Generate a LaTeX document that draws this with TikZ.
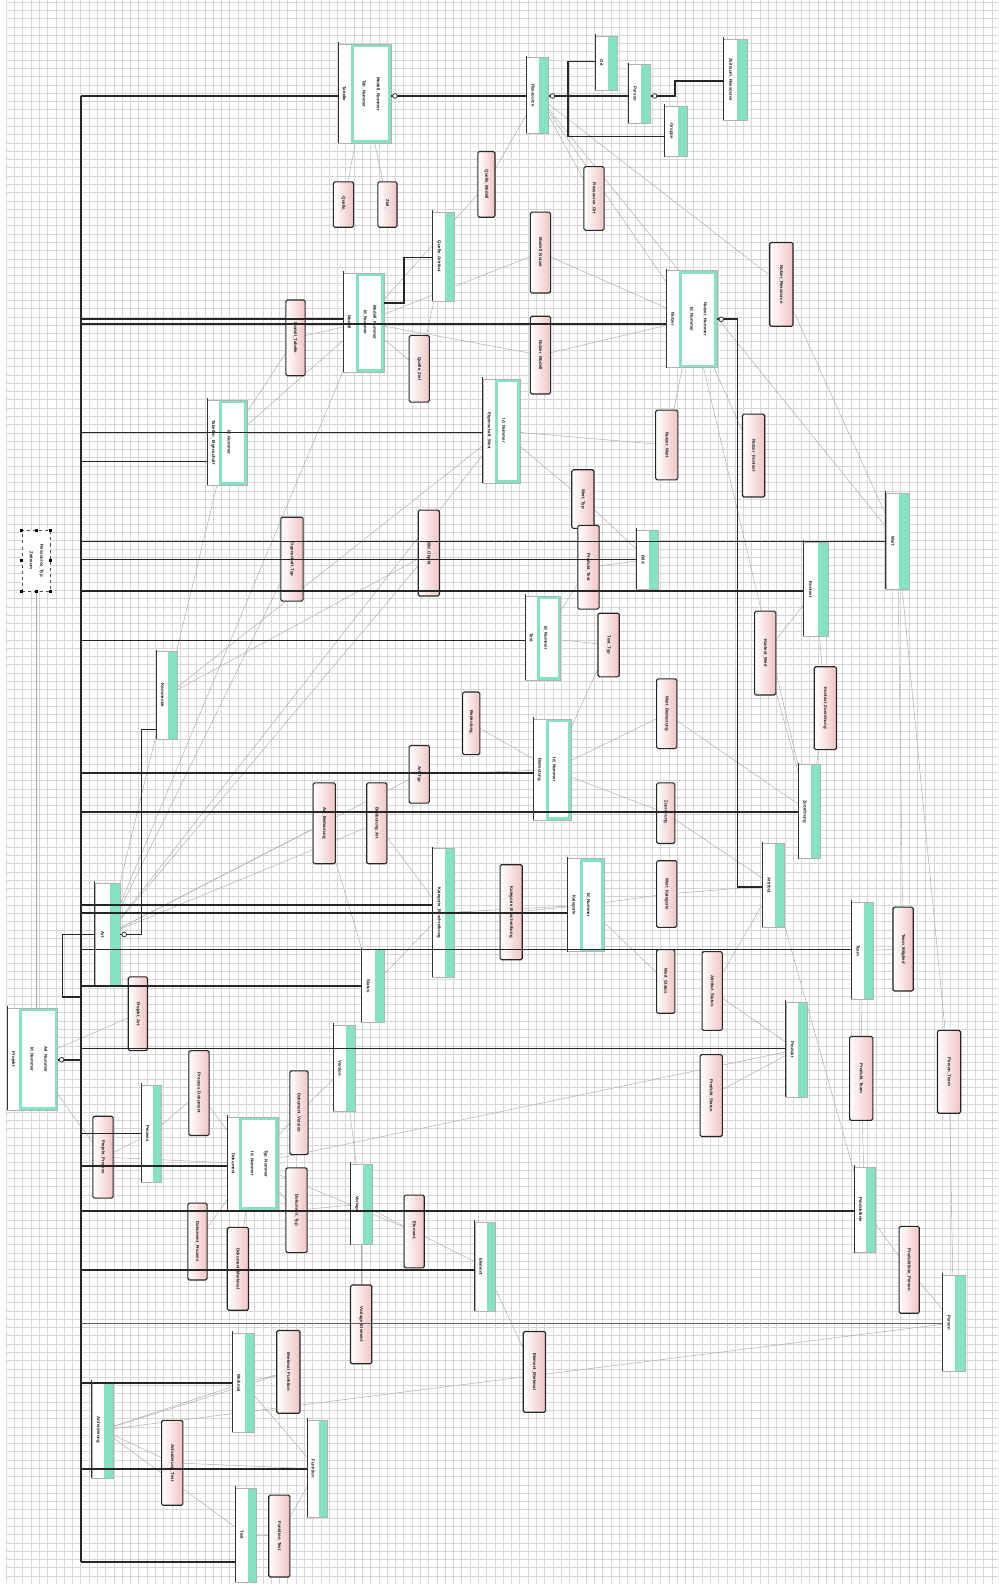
\documentclass[tikz,border=0pt]{standalone}
\usepackage{fontspec}
\setmainfont{Liberation Sans}
\pgfdeclarelayer{gridlayer}
\pgfdeclarelayer{relayer}
\pgfsetlayers{gridlayer,relayer,main}
\definecolor{mint}{HTML}{86E3C1}
\definecolor{relpink}{HTML}{F0C4C4}
\definecolor{gridc}{HTML}{D6D6D6}
\definecolor{relc}{HTML}{AAAAAA}
\tikzset{
  entbox/.style={inner sep=0pt, outer sep=0pt},
  entline/.style={draw=gray!60, line width=0.5pt},
  entedge/.style={draw=black!80, line width=1pt},
  relbox/.style={draw=black!85, line width=1.1pt, rounded corners=1.5pt, left color=white, right color=relpink, inner sep=0pt, outer sep=0pt},
  lbl/.style={font=\fontsize{4.3}{5}\selectfont\bfseries, inner sep=0pt, rotate=-90, text=black!90},
  fk/.style={line width=1.6pt, draw=black!85},
  rel/.style={line width=0.45pt, draw=relc},
  reldark/.style={line width=0.8pt, draw=gray!80!black},
  ring/.style={draw=black!85, line width=0.7pt, fill=white},
  handle/.style={fill=black},
}
\newcommand\ent[6]{%
  \node[entbox, minimum width={#4-#2}, minimum height={#5-#3}] (#1) at ({(#2+#4)/2},{(#3+#5)/2}) {};
  \fill[white] (#2,#3) rectangle (#4,#5);
  \fill[mint] ({#4-0.42*(#4-#2)},#3) rectangle (#4,#5);
  \draw[entline] (#2,#3) rectangle (#4,#5);
  \draw[entedge] (#2,{#3-2}) -- (#2,#5);
  \node[lbl] (#1-t) at ({#2+0.3*(#4-#2)},{(#3+#5)/2}) {#6};
}
\newcommand\entw[8]{%
  \node[entbox, minimum width={#4-#2}, minimum height={#5-#3}] (#1) at ({(#2+#4)/2},{(#3+#5)/2}) {};
  \fill[white] (#2,#3) rectangle (#4,#5);
  \fill[mint] ({#2+12},#3) rectangle (#4,#5);
  \fill[white] ({#2+15},{#3+3}) rectangle ({#4-3},{#5-3});
  \draw[entline] (#2,#3) rectangle (#4,#5);
  \draw[entedge] (#2,{#3-2}) -- (#2,#5);
  \node[lbl] (#1-t) at ({#2+6},{(#3+#5)/2}) {#6};
  \node[lbl] (#1-a) at ({#2+15+0.3*(#4-#2-18)},{(#3+#5)/2}) {#7};
  \node[lbl] (#1-b) at ({#2+15+0.72*(#4-#2-18)},{(#3+#5)/2}) {#8};
}
\newcommand\rel[6]{%
  \node[relbox, minimum width={#4-#2}, minimum height={#5-#3}] (#1) at ({(#2+#4)/2},{(#3+#5)/2}) {};
  \node[lbl] (#1-t) at (#1.center) {#6};
}
\newcommand\bl[2]{\draw[fk] (busT |- 0,#1) -- (#2.west |- 0,#1);}
\newcommand\ringat[1]{\draw[ring] #1 circle (2.3pt);}
\begin{document}
\begin{tikzpicture}[x=1pt,y=-1pt]
\useasboundingbox (0,0) rectangle (988,1568);
\begin{pgfonlayer}{gridlayer}
  \fill[white] (0,0) rectangle (988,1568);
  \foreach \x in {6,14.2,...,988} \draw[gridc, line width=0.45pt] (\x,0) -- (\x,1568);
  \foreach \y in {2,10.2,...,1568} \draw[gridc, line width=0.45pt] (6,\y) -- (988,\y);
\end{pgfonlayer}

% ---------- entities ----------
\entw{E1}{335}{44}{387}{142}{Tabelle}{Tab\_Nummer}{Modell\_Nummer}
\ent{E2}{521}{57}{543}{132}{Ressource}
\ent{E3}{589}{36}{611}{89}{Ort}
\ent{E4}{622}{64}{644}{122}{Person}
\ent{E5}{658}{105}{680}{155}{Gruppe}
\ent{E6}{716}{39}{740}{119}{Zeitraum\_Ressource}
\ent{E10}{428}{210}{450}{298}{Quelle\_Attribut}
\entw{E12}{340}{270}{380}{368}{Modell}{Id\_Nummer}{Modell\_Nummer}
\entw{E16}{660}{268}{710}{364}{Nutzer}{Id\_Nummer}{Nutzer\_Nummer}
\entw{E18}{205}{396}{245}{480}{Tabellen\_Eigenschaft}{Id\_Nummer}{}
\entw{E19}{478}{375}{515}{478}{Eigenschaft\_Wert}{Id\_Nummer}{}
\ent{E26}{630}{525}{652}{583}{Bild}
\ent{E27}{877}{488}{900}{583}{Wert}
\ent{E28}{795}{537}{820}{630}{Kontext}
\entw{E29}{520}{590}{555}{673}{Text}{Id\_Nummer}{}
\ent{E33}{155}{645}{175}{732}{Kommentar}
\entw{E36}{528}{712}{565}{812}{Bedeutung}{Id\_Nummer}{}
\ent{E40}{790}{757}{812}{850}{Zuordnung}
\ent{E43}{428}{840}{450}{967}{Kategorie\_Beschreibung}
\entw{E44}{562}{850}{598}{942}{Kategorie}{Id\_Nummer}{}
\ent{E46}{755}{835}{776}{918}{Attribut}
\ent{E47}{94}{874}{119}{976}{Art}
\ent{E48}{843}{893}{864}{989}{Team}
\ent{E49}{358}{940}{380}{1012}{Status}
\entw{E54}{7}{998}{57}{1099}{Projekt}{Id\_Nummer}{Art\_Nummer}
\ent{E55}{330}{1015}{352}{1100}{Version}
\ent{E57}{778}{992}{799}{1086}{Produkt}
\ent{E61}{140}{1074}{160}{1170}{Prozess}
\entw{E63}{225}{1106}{275}{1198}{Dokument}{Id\_Nummer}{Typ\_Nummer}
\ent{E66}{347}{1152}{368}{1232}{Vorlage}
\ent{E70}{470}{1210}{490}{1298}{Element}
\ent{E71}{846}{1155}{866}{1240}{Produktlinie}
\ent{E74}{230}{1320}{252}{1418}{Merkmal}
\ent{E77}{933}{1262}{955}{1357}{Person}
\ent{E78}{91}{1368}{112}{1463}{Anforderung}
\ent{E80}{304}{1406}{324}{1502}{Funktion}
\ent{E81}{233}{1473}{254}{1566}{Test}

% ---------- relationship boxes ----------
\rel{P7a}{330}{180}{350}{225}{Quelle\_}
\rel{P7b}{374}{180}{393}{225}{Ziel\_}
\rel{P8}{473}{150}{490}{215}{Quelle\_Modell}
\rel{P9}{578}{165}{598}{228}{Ressource\_Ort}
\rel{P11}{525}{210}{545}{290}{Modell\_Nutzer}
\rel{P13}{283}{297}{302}{372}{Modell\_Tabelle}
\rel{P14}{405}{332}{425}{398}{Quelle\_Ziel}
\rel{P15}{525}{313}{545}{390}{Nutzer\_Modell}
\rel{P17}{762}{240}{785}{323}{Nutzer\_Ressource}
\rel{P20}{649}{406}{671}{475}{Nutzer\_Wert}
\rel{P21}{735}{410}{757}{492}{Nutzer\_Kontext}
\rel{P22}{566}{465}{588}{523}{Wert\_Typ}
\rel{P23}{278}{512}{300}{595}{Eigenschaft\_Typ}
\rel{P24}{414}{505}{435}{590}{Bild\_Objekt}
\rel{P25}{572}{520}{593}{603}{Produkt\_Text}
\rel{P30}{592}{607}{613}{670}{Text\_Typ}
\rel{P31}{747}{605}{768}{688}{Kontext\_Wert}
\rel{P32}{806}{660}{828}{742}{Kontext\_Zuordnung}
\rel{P34}{458}{685}{475}{747}{Bedeutung\_}
\rel{P35}{650}{672}{670}{741}{Wert\_Bedeutung}
\rel{P37}{405}{738}{425}{795}{Art\_Typ}
\rel{P38}{310}{775}{332}{855}{Art\_Bedeutung}
\rel{P39}{363}{775}{383}{855}{Bedeutung\_Art}
\rel{P41}{650}{775}{668}{835}{Zuordnung\_}
\rel{P42}{495}{856}{517}{950}{Kategorie\_Beschreibung}
\rel{P45}{650}{852}{670}{918}{Wert\_Kategorie}
\rel{P50}{650}{940}{668}{1003}{Wert\_Status}
\rel{P51}{695}{942}{715}{1020}{Attribut\_Status}
\rel{P52}{884}{898}{904}{981}{Team\_Mitglied}
\rel{P53}{127}{967}{146}{1040}{Projekt\_Art}
\rel{P56}{187}{1040}{207}{1124}{Prozess\_Dokument}
\rel{P58}{693}{1044}{715}{1125}{Produkt\_Status}
\rel{P59}{841}{1026}{864}{1109}{Produkt\_Team}
\rel{P60}{928}{1020}{951}{1102}{Person\_Team}
\rel{P62}{92}{1105}{112}{1186}{Projekt\_Prozess}
\rel{P64}{287}{1060}{305}{1143}{Dokument\_Version}
\rel{P65}{283}{1156}{304}{1240}{Dokument\_Typ}
\rel{P67}{400}{1183}{420}{1255}{Element\_}
\rel{P68}{186}{1191}{205}{1267}{Dokument\_Prozess}
\rel{P69}{225}{1215}{246}{1297}{Dokument\_Merkmal}
\rel{P72}{890}{1214}{910}{1300}{Produktlinie\_Person}
\rel{P73}{347}{1272}{368}{1350}{Vorlage\_Element}
\rel{P75}{274}{1317}{297}{1399}{Merkmal\_Funktion}
\rel{P76}{518}{1318}{540}{1398}{Element\_Merkmal}
\rel{P79}{160}{1406}{181}{1490}{Anforderung\_Test}
\rel{P82}{266}{1480}{287}{1561}{Funktion\_Test}

% ---------- selected small box ----------
\node[draw=black!70, dashed, line width=0.6pt, fill=white, minimum width=28pt, minimum height=60pt, inner sep=0pt] (D) at (36,555) {};
\node[lbl] (D-a) at (31,555) {Zeitraum};
\node[lbl] (D-b) at (41,555) {Ressource\_Typ};
\foreach \p in {north west,north,north east,west,east,south west,south,south east}
  \fill[handle] ([xshift=-1.5pt,yshift=-1.5pt]D.\p) rectangle ([xshift=1.5pt,yshift=1.5pt]D.\p);

% ---------- bus and foreign-key lines ----------
\coordinate (busT) at (80,95);
\coordinate (busB) at (80,1546);
\draw[fk] (busT) -- (busB);
\bl{95}{E1}
\bl{316}{E12}
\bl{321}{E16}
\bl{428}{E19}
\bl{457}{E18}
\bl{536}{E27}
\bl{554}{E26}
\bl{585}{E28}
\bl{634}{E29}
\bl{765}{E36}
\bl{804}{E40}
\bl{896}{E43}
\bl{904}{E44}
\bl{940}{E48}
\bl{976}{E49}
\bl{1038}{E57}
\bl{1122}{E61}
\bl{1154}{E63}
\bl{1199}{E71}
\bl{1257}{E70}
\bl{1369}{E74}
\bl{1454}{E80}
\bl{1546}{E81}
\draw[reldark] (busT |- 0,1310) -- (E77.west |- 0,1310);

% top right cluster
\draw[fk] (E1.east |- 0,95) -- (E2.west |- 0,95);
\ringat{(391,95)}
\draw[fk] (E2.east |- 0,95) -- (562,95);
\draw[fk] (E3.west |- 0,61) -- (562,61) -- (562,135) -- (E5.west |- 0,135);
\draw[fk] (562,95) -- (E4.west |- 0,95);
\ringat{(547,95)}
\draw[fk] (E4.east |- 0,95) -- (668,95) -- (668,80) -- (E6.west |- 0,80);
\ringat{(648,95)}
% Modell -> Quelle_Attribut
\draw[fk] (E12.east |- 0,300) -- (400,300) -- (400,255) -- (E10.west |- 0,255);
% Nutzer -> Attribut
\draw[fk] (E16.east |- 0,316) -- (730,316) -- (730,878) -- (E46.west |- 0,878);
\ringat{(714,316)}
% Art -> Kommentar
\draw[fk] (E47.east |- 0,925) -- (140,925) -- (140,722) -- (E33.west |- 0,722);
\ringat{(123,925)}
\draw[fk] (E47.west |- 0,925) -- (62,925) -- (62,987) -- (busT |- 0,987);
% Projekt -> bus
\draw[fk] (E54.east |- 0,1049) -- (busT |- 0,1049);
\ringat{(61,1049)}

% ---------- relationship (grey) lines ----------
\begin{pgfonlayer}{relayer}
\draw[rel] (D.south) -- (D.south |- E54.north);
\foreach \a/\b in {E47/P23,E47/P24,E47/E19,E47/P38,E47/P39,E47/P37,E47/E12,E47/E18,
  E1/P7a,E1/P7b,E2/P9,E2/E16,E2/E27,E2/P17,P8/E12,P8/E2,
  E12/P11,E12/P13,E12/P14,E12/P15,E16/P11,E16/P15,E16/P20,E16/P21,E16/E40,
  P17/E27,E19/P20,E19/P22,E10/P14,E33/E19,E18/P13,E18/E12,
  E28/P31,E28/P32,E36/P34,E36/P35,E36/P37,E36/P41,E36/P30,E29/P30,E29/P25,
  E26/P25,E26/P22,E44/P42,E44/P45,E44/P50,E44/E43,E46/P41,E46/P45,E46/P51,E46/E71,
  E40/P31,E40/P32,E40/P35,E27/P52,E27/P60,E48/P52,E48/P59,P59/E71,
  E57/P51,E57/P58,E57/E63,E71/P72,E77/P72,E77/P60,
  E78/E77,E78/P79,E78/P75,E78/E74,E78/E81,
  E63/P56,E63/P62,E63/P64,E63/P65,E63/P67,E63/P68,E63/P69,
  E61/P56,E61/P62,E66/P73,E66/P65,E66/P67,E70/P67,E70/P76,
  E74/P75,E74/E80,E80/P82,E80/P79,E81/P82,E55/E66,E55/P64,E43/P39,E43/P42,E43/E49,E49/P38,
  E54/P53,E54/P62,E33/P24}
  \draw[rel] (\a) -- (\b);
\end{pgfonlayer}
\end{tikzpicture}
\end{document}
